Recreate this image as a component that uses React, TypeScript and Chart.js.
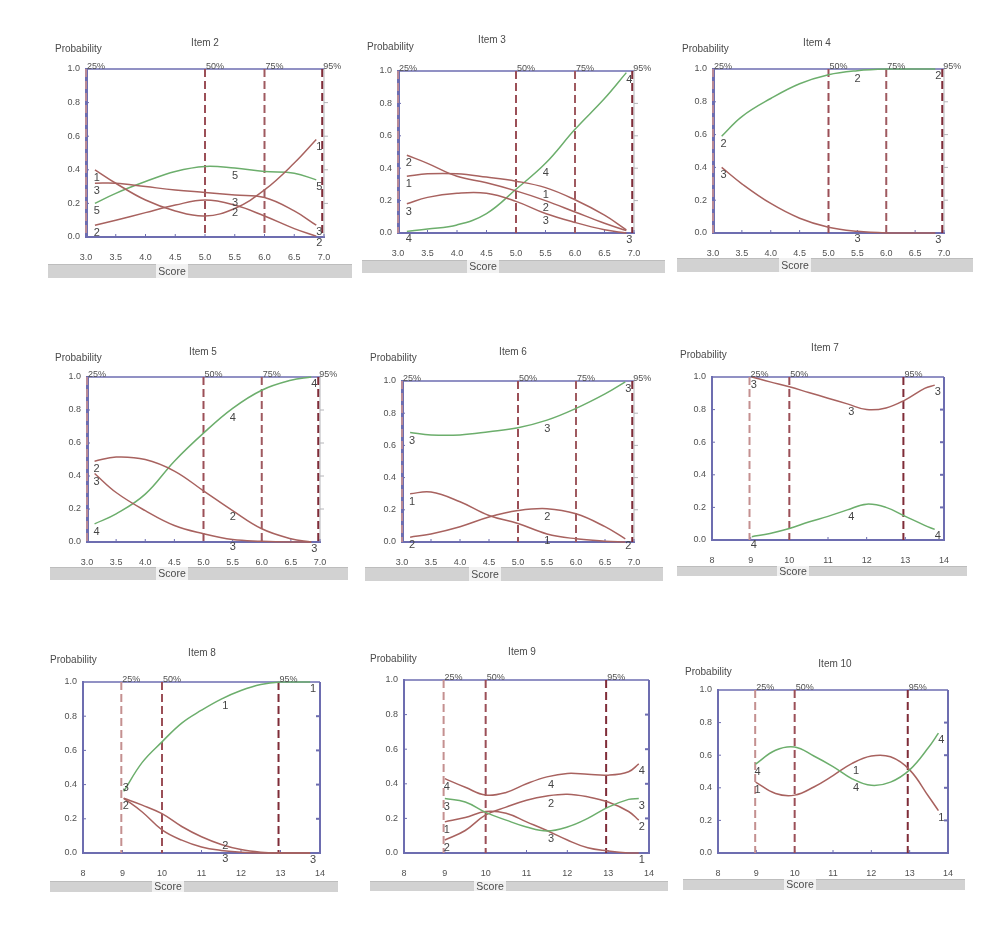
import React, { useEffect, useRef } from "react";
import { Chart, registerables } from "chart.js";
Chart.register(...registerables);

const W = 981;
const H = 934;
const FONT = "'Liberation Sans', Arial, Helvetica, sans-serif";
const AXIS = "#6d6db0";
const GREEN = "#6cae6c";
const RED = "#a8625f";
const TEXT = "#454545";
const TICK_TEXT = "#505050";
const YW = 30;
const XH = 30;

// ---------------- data ----------------
// percentiles of the total score
const pctLowValues = [3.0, 5.0, 6.0, 6.97];
const pctLowLabels = ["25%", "50%", "75%", "95%"];
const pctLowColors = ["#b98a96", "#9b4f57", "#9f5a60", "#7f2c38"];
const pctHighValues = [8.97, 10.0, 12.95];
const pctHighLabels = ["25%", "50%", "95%"];
const pctHighColors = ["#c49090", "#9b4f57", "#7f2c38"];

// Item 2
const item2Score = [3.15, 3.5, 4.0, 4.5, 5.0, 5.5, 6.0, 6.5, 6.87];
const item2Cat1 = [0.4, 0.32, 0.22, 0.155, 0.125, 0.17, 0.28, 0.44, 0.58];
const item2Cat2 = [0.07, 0.1, 0.145, 0.19, 0.22, 0.19, 0.125, 0.05, 0.005];
const item2Cat3 = [0.32, 0.32, 0.3, 0.28, 0.265, 0.25, 0.235, 0.155, 0.07];
const item2Cat5 = [0.2, 0.26, 0.33, 0.39, 0.42, 0.41, 0.39, 0.38, 0.34];

// Item 3
const item3Score = [3.15, 3.5, 4.0, 4.5, 5.0, 5.5, 6.0, 6.5, 6.87];
const item3Cat1 = [0.35, 0.365, 0.365, 0.345, 0.32, 0.28, 0.205, 0.11, 0.02];
const item3Cat2 = [0.48, 0.43, 0.35, 0.31, 0.26, 0.2, 0.13, 0.06, 0.015];
const item3Cat3 = [0.18, 0.22, 0.245, 0.245, 0.195, 0.12, 0.065, 0.02, 0.0];
const item3Cat4 = [0.01, 0.025, 0.05, 0.12, 0.27, 0.43, 0.64, 0.83, 0.99];

// Item 4
const item4Score = [3.15, 3.5, 4.0, 4.5, 5.0, 5.5, 6.0, 6.5, 6.85];
const item4Cat2 = [0.59, 0.71, 0.82, 0.91, 0.965, 0.99, 1.0, 1.0, 1.0];
const item4Cat3 = [0.4, 0.3, 0.18, 0.09, 0.035, 0.01, 0.0, 0.0, 0.0];

// Item 5
const item5Score = [3.13, 3.5, 4.0, 4.5, 5.0, 5.5, 6.0, 6.5, 6.85];
const item5Cat2 = [0.49, 0.515, 0.5, 0.43, 0.31, 0.19, 0.08, 0.02, 0.0];
const item5Cat3 = [0.415, 0.3, 0.19, 0.1, 0.05, 0.015, 0.005, 0.0, 0.0];
const item5Cat4 = [0.11, 0.17, 0.29, 0.49, 0.66, 0.81, 0.92, 0.98, 1.0];

// Item 6
const item6Score = [3.14, 3.5, 4.0, 4.5, 5.0, 5.5, 6.0, 6.5, 6.85];
const item6Cat1 = [0.3, 0.31, 0.25, 0.165, 0.115, 0.05, 0.02, 0.005, 0.0];
const item6Cat2 = [0.03, 0.05, 0.095, 0.155, 0.195, 0.207, 0.175, 0.095, 0.02];
const item6Cat3 = [0.68, 0.665, 0.665, 0.685, 0.71, 0.757, 0.83, 0.92, 0.995];

// Item 7
const item7Score = [9.03, 9.5, 10, 10.5, 11, 11.5, 12, 12.5, 13, 13.5, 13.76];
const item7Cat3 = [1.0, 0.97, 0.94, 0.905, 0.87, 0.835, 0.8, 0.81, 0.86, 0.93, 0.95];
const item7Cat4 = [0.02, 0.04, 0.07, 0.11, 0.145, 0.185, 0.22, 0.2, 0.145, 0.09, 0.065];

// Item 8
const item8Score = [9.03, 9.5, 10, 10.5, 11, 11.5, 12, 12.5, 13, 13.5, 13.75];
const item8Cat1 = [0.36, 0.53, 0.65, 0.76, 0.835, 0.9, 0.95, 0.985, 1.0, 1.0, 1.0];
const item8Cat2 = [0.32, 0.28, 0.23, 0.155, 0.095, 0.05, 0.02, 0.005, 0.0, 0.0, 0.0];
const item8Cat3 = [0.32, 0.24, 0.135, 0.075, 0.035, 0.015, 0.005, 0.0, 0.0, 0.0, 0.0];

// Item 9
const item9Score = [9.0, 9.5, 10, 10.5, 11, 11.5, 12, 12.5, 13, 13.5, 13.75];
const item9Cat1 = [0.18, 0.205, 0.24, 0.23, 0.18, 0.13, 0.075, 0.03, 0.012, 0.0, 0.0];
const item9Cat2 = [0.075, 0.13, 0.22, 0.265, 0.305, 0.33, 0.34, 0.325, 0.295, 0.24, 0.19];
const item9Cat3 = [0.315, 0.295, 0.235, 0.19, 0.15, 0.127, 0.15, 0.2, 0.265, 0.31, 0.315];
const item9Cat4 = [0.43, 0.38, 0.335, 0.35, 0.4, 0.44, 0.46, 0.455, 0.45, 0.47, 0.515];

// Item 10
const item10Score = [8.98, 9.5, 10, 10.5, 11, 11.5, 12, 12.5, 13, 13.5, 13.75];
const item10Cat1 = [0.435, 0.365, 0.355, 0.405, 0.475, 0.55, 0.595, 0.59, 0.51, 0.345, 0.26];
const item10Cat4 = [0.545, 0.63, 0.65, 0.595, 0.53, 0.455, 0.415, 0.435, 0.51, 0.65, 0.735];

// ---------------- panel configuration ----------------
type Series = {
  name: string;
  values: number[];
  color: string;
  show: string;
  startDy?: number;
  midDy?: number;
};
type Cfg = {
  title: string;
  xs: number[];
  series: Series[];
  low: boolean;
  area: { l: number; t: number; r: number; b: number };
  titlePos: [number, number];
  probPos: [number, number];
  bar: { x1: number; x2: number; y1: number; y2: number; sx: number };
  rightSolid: boolean;
};

const panels: Cfg[] = [
  {
    title: "Item 2", xs: item2Score, low: true, rightSolid: false,
    series: [
      { name: "1", values: item2Cat1, color: RED, show: "se" },
      { name: "3", values: item2Cat3, color: RED, show: "sme" },
      { name: "5", values: item2Cat5, color: GREEN, show: "sme" },
      { name: "2", values: item2Cat2, color: RED, show: "sme" },
    ],
    area: { l: 86, t: 69, r: 324, b: 237 }, titlePos: [205, 43], probPos: [55, 49],
    bar: { x1: 48, x2: 352, y1: 264, y2: 278, sx: 172 },
  },
  {
    title: "Item 3", xs: item3Score, low: true, rightSolid: false,
    series: [
      { name: "2", values: item3Cat2, color: RED, show: "sm" },
      { name: "1", values: item3Cat1, color: RED, show: "sm" },
      { name: "3", values: item3Cat3, color: RED, show: "sme" },
      { name: "4", values: item3Cat4, color: GREEN, show: "sme" },
    ],
    area: { l: 398, t: 71, r: 634, b: 233 }, titlePos: [492, 40], probPos: [367, 47],
    bar: { x1: 362, x2: 665, y1: 260, y2: 273, sx: 483 },
  },
  {
    title: "Item 4", xs: item4Score, low: true, rightSolid: false,
    series: [
      { name: "2", values: item4Cat2, color: GREEN, show: "sme" },
      { name: "3", values: item4Cat3, color: RED, show: "sme" },
    ],
    area: { l: 713, t: 69, r: 944, b: 233 }, titlePos: [817, 43], probPos: [682, 49],
    bar: { x1: 677, x2: 973, y1: 258, y2: 272, sx: 795 },
  },
  {
    title: "Item 5", xs: item5Score, low: true, rightSolid: false,
    series: [
      { name: "2", values: item5Cat2, color: RED, show: "sm" },
      { name: "3", values: item5Cat3, color: RED, show: "sme" },
      { name: "4", values: item5Cat4, color: GREEN, show: "sme" },
    ],
    area: { l: 87, t: 377, r: 320, b: 542 }, titlePos: [203, 352], probPos: [55, 358],
    bar: { x1: 50, x2: 348, y1: 567, y2: 580, sx: 172 },
  },
  {
    title: "Item 6", xs: item6Score, low: true, rightSolid: false,
    series: [
      { name: "3", values: item6Cat3, color: GREEN, show: "sme" },
      { name: "1", values: item6Cat1, color: RED, show: "sm" },
      { name: "2", values: item6Cat2, color: RED, show: "sme" },
    ],
    area: { l: 402, t: 381, r: 634, b: 542 }, titlePos: [513, 352], probPos: [370, 358],
    bar: { x1: 365, x2: 663, y1: 567, y2: 581, sx: 485 },
  },
  {
    title: "Item 7", xs: item7Score, low: false, rightSolid: true,
    series: [
      { name: "3", values: item7Cat3, color: RED, show: "sme" },
      { name: "4", values: item7Cat4, color: GREEN, show: "sme" },
    ],
    area: { l: 712, t: 377, r: 944, b: 540 }, titlePos: [825, 348], probPos: [680, 355],
    bar: { x1: 677, x2: 967, y1: 566, y2: 576, sx: 793 },
  },
  {
    title: "Item 8", xs: item8Score, low: false, rightSolid: true,
    series: [
      { name: "1", values: item8Cat1, color: GREEN, show: "me" },
      { name: "2", values: item8Cat2, color: RED, show: "sm", midDy: 1 },
      { name: "3", values: item8Cat3, color: RED, show: "sme", startDy: -10 },
    ],
    area: { l: 83, t: 682, r: 320, b: 853 }, titlePos: [202, 653], probPos: [50, 660],
    bar: { x1: 50, x2: 338, y1: 881, y2: 892, sx: 168 },
  },
  {
    title: "Item 9", xs: item9Score, low: false, rightSolid: true,
    series: [
      { name: "4", values: item9Cat4, color: RED, show: "sme" },
      { name: "3", values: item9Cat3, color: GREEN, show: "sme" },
      { name: "1", values: item9Cat1, color: RED, show: "se" },
      { name: "2", values: item9Cat2, color: RED, show: "sme" },
    ],
    area: { l: 404, t: 680, r: 649, b: 853 }, titlePos: [522, 652], probPos: [370, 659],
    bar: { x1: 370, x2: 668, y1: 881, y2: 891, sx: 490 },
  },
  {
    title: "Item 10", xs: item10Score, low: false, rightSolid: true,
    series: [
      { name: "4", values: item10Cat4, color: GREEN, show: "sme" },
      { name: "1", values: item10Cat1, color: RED, show: "sme" },
    ],
    area: { l: 718, t: 690, r: 948, b: 853 }, titlePos: [835, 664], probPos: [685, 672],
    bar: { x1: 683, x2: 965, y1: 879, y2: 890, sx: 800 },
  },
];

function seg(ctx: CanvasRenderingContext2D, x1: number, y1: number, x2: number, y2: number) {
  ctx.beginPath();
  ctx.moveTo(x1, y1);
  ctx.lineTo(x2, y2);
  ctx.stroke();
}

function interp(xs: number[], ys: number[], x: number) {
  for (let i = 0; i < xs.length - 1; i++) {
    if (x >= xs[i] && x <= xs[i + 1]) {
      const t = (x - xs[i]) / (xs[i + 1] - xs[i]);
      return ys[i] + t * (ys[i + 1] - ys[i]);
    }
  }
  return ys[ys.length - 1];
}

function decor(cfg: Cfg) {
  const pv = cfg.low ? pctLowValues : pctHighValues;
  const pl = cfg.low ? pctLowLabels : pctHighLabels;
  const pc = cfg.low ? pctLowColors : pctHighColors;
  const midX = cfg.low ? 5.47 : 11.55;
  return {
    id: "decor",
    beforeDatasetsDraw(chart: any) {
      const { ctx, chartArea: a } = chart;
      const xs = chart.scales.x;
      const ys = chart.scales.y;
      ctx.save();
      ctx.strokeStyle = AXIS;
      ctx.lineWidth = 1.5;
      seg(ctx, a.left, a.top, a.right, a.top);
      if (cfg.rightSolid) {
        ctx.strokeStyle = AXIS;
        ctx.lineWidth = 2;
      } else {
        ctx.strokeStyle = "#b4b4b8";
        ctx.lineWidth = 1;
      }
      seg(ctx, a.right, a.top, a.right, a.bottom);
      [0.2, 0.4, 0.6, 0.8].forEach((v) => {
        const y = ys.getPixelForValue(v);
        if (cfg.rightSolid) seg(ctx, a.right - 4, y, a.right, y);
        else seg(ctx, a.right, y, a.right + 4, y);
      });
      ctx.strokeStyle = AXIS;
      ctx.lineWidth = 1;
      [0.2, 0.4, 0.6, 0.8].forEach((v) => {
        const y = ys.getPixelForValue(v);
        seg(ctx, a.left, y, a.left + 3, y);
      });
      xs.ticks.forEach((t: any) => {
        const x = xs.getPixelForValue(t.value);
        seg(ctx, x, a.bottom - 3, x, a.bottom);
      });
      ctx.setLineDash([8, 4]);
      ctx.lineWidth = 2;
      pv.forEach((v, i) => {
        const x = xs.getPixelForValue(v);
        ctx.strokeStyle = pc[i];
        seg(ctx, x, a.top, x, a.bottom);
      });
      ctx.setLineDash([]);
      ctx.restore();
    },
    afterDatasetsDraw(chart: any) {
      const { ctx, chartArea: a } = chart;
      const xs = chart.scales.x;
      const ys = chart.scales.y;
      ctx.save();
      // percentile labels
      ctx.fillStyle = "#505050";
      ctx.font = `9px ${FONT}`;
      ctx.textAlign = "left";
      ctx.textBaseline = "alphabetic";
      pv.forEach((v, i) => {
        ctx.fillText(pl[i], xs.getPixelForValue(v) + 1, a.top);
      });
      // curve labels
      ctx.fillStyle = TEXT;
      ctx.font = `11px ${FONT}`;
      ctx.textAlign = "center";
      ctx.textBaseline = "middle";
      cfg.series.forEach((s) => {
        const n = cfg.xs.length;
        if (s.show.includes("s")) {
          const x = xs.getPixelForValue(cfg.xs[0]);
          const y = ys.getPixelForValue(s.values[0]);
          ctx.fillText(s.name, x + 2, y + (s.startDy ?? 8));
        }
        if (s.show.includes("m")) {
          const x = xs.getPixelForValue(midX);
          const y = ys.getPixelForValue(interp(cfg.xs, s.values, midX));
          ctx.fillText(s.name, x + 2, y + (s.midDy ?? 8));
        }
        if (s.show.includes("e")) {
          const x = xs.getPixelForValue(cfg.xs[n - 1]);
          const y = ys.getPixelForValue(s.values[n - 1]);
          ctx.fillText(s.name, x + 3, y + 7);
        }
      });
      // title
      ctx.fillStyle = "#4a4a4a";
      ctx.font = `10px ${FONT}`;
      ctx.textAlign = "center";
      ctx.fillText(cfg.title, cfg.titlePos[0], cfg.titlePos[1]);
      ctx.textAlign = "left";
      ctx.fillText("Probability", cfg.probPos[0], cfg.probPos[1]);
      // score bar
      const b = cfg.bar;
      ctx.fillStyle = "#d2d2d2";
      ctx.fillRect(b.x1, b.y1, b.x2 - b.x1, b.y2 - b.y1);
      ctx.fillStyle = "#bdbdbd";
      ctx.fillRect(b.x1, b.y1, b.x2 - b.x1, 1);
      ctx.fillStyle = "#f2f2f2";
      ctx.fillRect(b.sx - 16, b.y1, 32, b.y2 - b.y1);
      ctx.fillStyle = "#4a4a4a";
      ctx.font = `10.5px ${FONT}`;
      ctx.textAlign = "center";
      ctx.fillText("Score", b.sx, (b.y1 + b.y2) / 2 + 1);
      ctx.restore();
    },
  };
}

function Panel({ cfg }: { cfg: Cfg }) {
  const ref = useRef<HTMLCanvasElement>(null);
  useEffect(() => {
    const canvas = ref.current!;
    const tickFont = { family: FONT, size: 9 };
    const chart = new Chart(canvas, {
      type: "line",
      data: {
        datasets: cfg.series.map((s) => ({
          label: s.name,
          data: cfg.xs.map((x, i) => ({ x, y: s.values[i] })),
          borderColor: s.color,
          borderWidth: 1.5,
          pointRadius: 0,
          tension: 0.4,
          fill: false,
          clip: 6,
        })),
      },
      options: {
        responsive: false,
        animation: false,
        events: [],
        layout: {
          padding: {
            left: cfg.area.l - YW,
            top: cfg.area.t,
            right: W - cfg.area.r,
            bottom: H - cfg.area.b - XH,
          },
        },
        plugins: {
          legend: { display: false },
          tooltip: { enabled: false },
          title: { display: false },
        },
        scales: {
          x: {
            type: "linear",
            min: cfg.low ? 3 : 8,
            max: cfg.low ? 7 : 14,
            afterFit: (s: any) => {
              s.height = XH;
            },
            grid: { display: false, drawTicks: false },
            border: { display: true, color: AXIS, width: 2 },
            ticks: {
              stepSize: cfg.low ? 0.5 : 1,
              padding: 15,
              font: tickFont,
              color: TICK_TEXT,
              maxRotation: 0,
              autoSkip: false,
              callback: (v: any) => Number(v).toFixed(cfg.low ? 1 : 0),
            },
          },
          y: {
            type: "linear",
            min: 0,
            max: 1,
            afterFit: (s: any) => {
              s.width = YW;
            },
            grid: { display: false, drawTicks: false },
            border: { display: true, color: AXIS, width: cfg.low ? 3 : 2 },
            ticks: {
              stepSize: 0.2,
              padding: 6,
              font: tickFont,
              color: TICK_TEXT,
              callback: (v: any) => Number(v).toFixed(1),
            },
          },
        },
      } as any,
      plugins: [decor(cfg)],
    });
    return () => chart.destroy();
  }, [cfg]);
  return (
    <canvas
      ref={ref}
      width={W}
      height={H}
      style={{ position: "absolute", left: 0, top: 0, width: W, height: H }}
    />
  );
}

export default function App() {
  return (
    <div style={{ position: "absolute", left: 0, top: 0, width: W, height: H, background: "#ffffff", overflow: "hidden" }}>
      {panels.map((p) => (
        <Panel key={p.title} cfg={p} />
      ))}
    </div>
  );
}
